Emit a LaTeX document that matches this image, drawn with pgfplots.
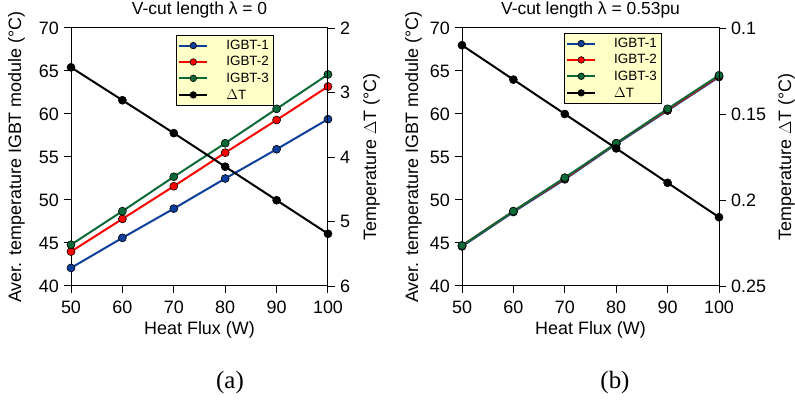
\documentclass[border=0pt]{standalone}
\usepackage{fontspec}
\setmainfont{Liberation Sans}
\newfontfamily\capfont{Liberation Serif}
\usepackage{pgfplots}
\pgfplotsset{compat=1.18}

\definecolor{igbtblue}{RGB}{12,63,156}
\definecolor{igbtred}{RGB}{255,0,0}
\definecolor{igbtgreen}{RGB}{10,105,55}
\definecolor{legendfill}{RGB}{255,255,200}

\pgfplotsset{
  panel/.style={
    scale only axis, width=257bp, height=258bp,
    xmin=50, xmax=100, xtick={50,60,...,100},
    tick align=outside, major tick length=7bp,
    /pgf/number format/assume math mode=true,
    tick label style={font=\fontsize{18}{21}\selectfont, inner sep=0bp},
    axis line style={line width=1bp}, tick style={line width=1bp, black},
    label style={font=\fontsize{18}{21}\selectfont, inner sep=0bp},
    clip=false,
  },
  series/.style={line width=2bp, color=#1, mark=*, mark size=4bp,
    mark options={draw=black, fill=#1, line width=0.6bp}},
  legend image code/.code={
    \draw[mark repeat=2, mark phase=2, #1, line width=2bp, mark size=3.3bp]
      plot coordinates {(0bp,0bp) (14bp,0bp) (28bp,0bp)};},
  leftaxis/.style={
    panel, ymin=40, ymax=70, ytick={40,45,...,70},
    xtick pos=bottom, ytick pos=left,
    xticklabel style={anchor=north, yshift=-8bp},
    yticklabel style={anchor=east, xshift=-5bp},
    xlabel={Heat Flux (W)},
    xlabel style={at={(axis description cs:0.5,0)}, anchor=base, yshift=-49bp},
    ylabel={Aver. temperature IGBT module (°C)},
    % the label is turned by 90 degrees, so its local y points to the left
    ylabel style={at={(axis description cs:0,0.5)}, anchor=north, yshift=#1},
    title style={at={(axis description cs:0.5,1)}, anchor=base, yshift=7.5bp,
      inner sep=0bp, font=\fontsize{17.5}{21}\selectfont},
  },
  rightaxis/.style={
    panel, axis x line=none, axis y line*=right, y dir=reverse,
    yticklabel style={anchor=west, xshift=5bp},
    ylabel={Temperature $\Delta$T (°C)},
    ylabel style={at={(axis description cs:1,0.5)}, anchor=north, yshift=#1},
    legend cell align=left,
    legend style={draw=black, fill=legendfill,
      font=\fontsize{13.5}{16}\selectfont,
      inner xsep=2bp, inner ysep=3bp, row sep=1.5bp, column sep=16bp},
  },
}

\begin{document}
\begin{tikzpicture}
\path[use as bounding box] (0bp,0bp) rectangle (795bp,403bp);

% ---------- panel (a): V-cut length 0 ----------
\begin{axis}[leftaxis=63bp, at={(71bp,117bp)}, anchor=south west,
  title={V-cut length λ = 0}]
\addplot[series=igbtblue] coordinates {(50,42.1) (60,45.6) (70,49.0) (80,52.5) (90,55.9) (100,59.4)};
\addplot[series=igbtred] coordinates {(50,44.0) (60,47.8) (70,51.6) (80,55.5) (90,59.3) (100,63.2)};
\addplot[series=igbtgreen] coordinates {(50,44.8) (60,48.7) (70,52.7) (80,56.6) (90,60.6) (100,64.6)};
\end{axis}
\begin{axis}[rightaxis=-35bp, at={(71bp,117bp)}, anchor=south west,
  ymin=2, ymax=6, ytick={2,3,4,5,6},
  legend style={at={(axis description cs:0.409,0.973)}, anchor=north west}]
\addlegendimage{series=igbtblue}
\addlegendimage{series=igbtred}
\addlegendimage{series=igbtgreen}
\addplot[series=black] coordinates {(50,2.61) (60,3.12) (70,3.63) (80,4.15) (90,4.67) (100,5.19)};
\legend{IGBT-1, IGBT-2, IGBT-3, $\Delta$T}
\end{axis}

% ---------- panel (b): V-cut length 0.53 pu ----------
\begin{axis}[leftaxis=57bp, at={(462bp,117bp)}, anchor=south west,
  title={V-cut length λ = 0.53pu}]
\addplot[series=igbtblue] coordinates {(50,44.6) (60,48.6) (70,52.4) (80,56.5) (90,60.4) (100,64.3)};
\addplot[series=igbtred] coordinates {(50,44.7) (60,48.7) (70,52.5) (80,56.6) (90,60.5) (100,64.4)};
\addplot[series=igbtgreen] coordinates {(50,44.7) (60,48.7) (70,52.6) (80,56.6) (90,60.6) (100,64.5)};
\end{axis}
\begin{axis}[rightaxis=-59bp, at={(462bp,117bp)}, anchor=south west,
  ymin=0.1, ymax=0.25, ytick={0.1,0.15,0.2,0.25},
  yticklabels={0.1,0.15,0.2,0.25},
  legend style={at={(axis description cs:0.397,0.981)}, anchor=north west}]
\addlegendimage{series=igbtblue}
\addlegendimage{series=igbtred}
\addlegendimage{series=igbtgreen}
\addplot[series=black] coordinates {(50,0.110) (60,0.130) (70,0.150) (80,0.170) (90,0.190) (100,0.210)};
\legend{IGBT-1, IGBT-2, IGBT-3, $\Delta$T}
\end{axis}

\node[font=\capfont\fontsize{25}{30}\selectfont] at (230bp,20bp) {(a)};
\node[font=\capfont\fontsize{25}{30}\selectfont] at (615bp,20bp) {(b)};
\end{tikzpicture}
\end{document}
